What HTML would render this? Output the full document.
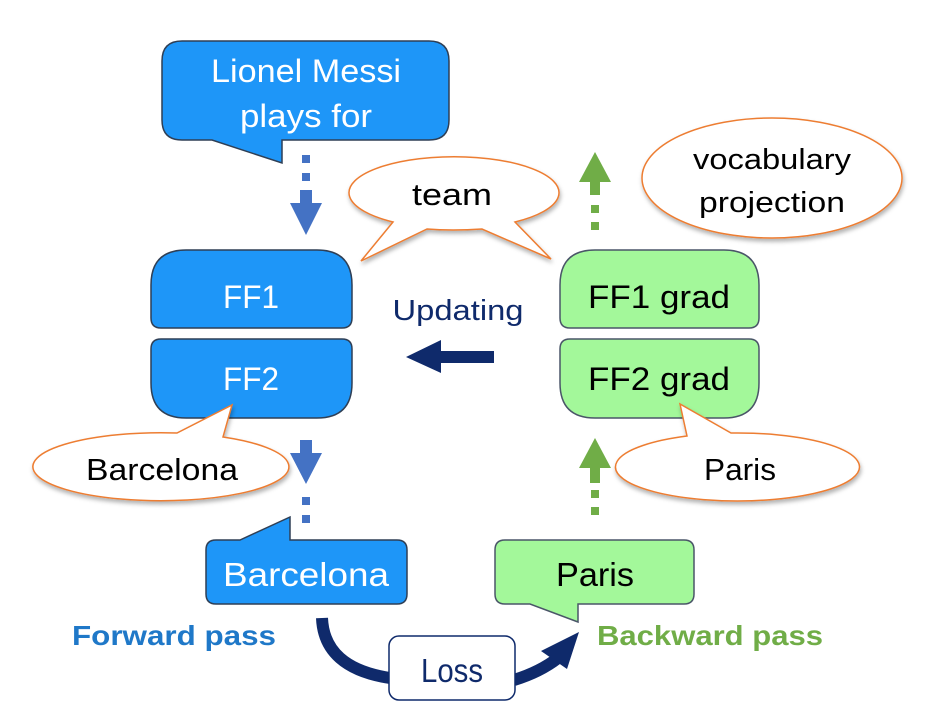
<!DOCTYPE html>
<html><head><meta charset="utf-8"><style>
html,body{margin:0;padding:0;background:#fff;}
svg{display:block;}
text{font-family:"Liberation Sans",sans-serif;}
</style></head><body>
<svg width="940" height="728" viewBox="0 0 940 728" xmlns="http://www.w3.org/2000/svg">
<defs>
<filter id="sh" x="-10%" y="-10%" width="120%" height="130%"><feDropShadow dx="1" dy="3" stdDeviation="2" flood-color="#000" flood-opacity="0.3"/></filter>
</defs>
<path d="M182,41 H429 Q449,41 449,61 V120 Q449,140 429,140 H282 V163 L212,140 H182 Q162,140 162,120 V61 Q162,41 182,41 Z" fill="#1E96F8" stroke="#2f3f55" stroke-width="1.5"/>
<text x="306" y="82" font-size="32" fill="#fff" text-anchor="middle" textLength="190" lengthAdjust="spacingAndGlyphs">Lionel Messi</text>
<text x="306" y="127" font-size="32" fill="#fff" text-anchor="middle" textLength="132" lengthAdjust="spacingAndGlyphs">plays for</text>
<rect x="302" y="155" width="8" height="8" fill="#4472C4"/>
<rect x="302" y="173" width="8" height="8" fill="#4472C4"/>
<rect x="300" y="190" width="12" height="14" fill="#4472C4"/>
<polygon points="290,203 322,203 306,235" fill="#4472C4"/>
<path d="M393,222 L361,261 L427,229 Q452,231 482,229 L551,259 L515,222 A105,36 0 1 0 393,222 Z" fill="#fff" stroke="#ED7D31" stroke-width="1.5" filter="url(#sh)"/>
<text x="452" y="205" font-size="31" fill="#000" text-anchor="middle" textLength="80" lengthAdjust="spacingAndGlyphs">team</text>
<path d="M186,250 H317 Q352,250 352,285 V318 Q352,328 342,328 H161 Q151,328 151,318 V285 Q151,250 186,250 Z" fill="#1E96F8" stroke="#2f3f55" stroke-width="1.5"/>
<text x="251" y="308" font-size="32" fill="#fff" text-anchor="middle" textLength="56" lengthAdjust="spacingAndGlyphs">FF1</text>
<path d="M161,339 H342 Q352,339 352,349 V383 Q352,418 317,418 H186 Q151,418 151,383 V349 Q151,339 161,339 Z" fill="#1E96F8" stroke="#2f3f55" stroke-width="1.5"/>
<text x="251" y="390" font-size="32" fill="#fff" text-anchor="middle" textLength="56" lengthAdjust="spacingAndGlyphs">FF2</text>
<text x="458" y="320" font-size="29" fill="#0f2a6b" text-anchor="middle" textLength="131" lengthAdjust="spacingAndGlyphs">Updating</text>
<polygon points="406,357 441,340 441,351 494,351 494,363 441,363 441,373" fill="#0f2a6b"/>
<path d="M595,250 H724 Q759,250 759,285 V318 Q759,328 749,328 H570 Q560,328 560,318 V285 Q560,250 595,250 Z" fill="#A3F89A" stroke="#4a5568" stroke-width="1.5"/>
<text x="659" y="308" font-size="32" fill="#000" text-anchor="middle" textLength="142" lengthAdjust="spacingAndGlyphs">FF1 grad</text>
<path d="M570,339 H749 Q759,339 759,349 V383 Q759,418 724,418 H595 Q560,418 560,383 V349 Q560,339 570,339 Z" fill="#A3F89A" stroke="#4a5568" stroke-width="1.5"/>
<text x="659" y="390" font-size="32" fill="#000" text-anchor="middle" textLength="142" lengthAdjust="spacingAndGlyphs">FF2 grad</text>
<ellipse cx="772" cy="178" rx="130" ry="60" fill="#fff" stroke="#ED7D31" stroke-width="1.5" filter="url(#sh)"/>
<text x="772" y="169" font-size="29" fill="#000" text-anchor="middle" textLength="158" lengthAdjust="spacingAndGlyphs">vocabulary</text>
<text x="772" y="212" font-size="29" fill="#000" text-anchor="middle" textLength="146" lengthAdjust="spacingAndGlyphs">projection</text>
<polygon points="595,152 611,182 579,182" fill="#70AD47"/>
<rect x="590" y="181" width="10" height="14" fill="#70AD47"/>
<rect x="591" y="205" width="8" height="8" fill="#70AD47"/>
<rect x="591" y="222" width="8" height="8" fill="#70AD47"/>
<path d="M687,436 L680,404 L731,433 A122,34 0 1 1 687,436 Z" fill="#fff" stroke="#ED7D31" stroke-width="1.5" filter="url(#sh)"/>
<text x="740" y="480" font-size="31" fill="#000" text-anchor="middle" textLength="72" lengthAdjust="spacingAndGlyphs">Paris</text>
<polygon points="595,438 611,468 579,468" fill="#70AD47"/>
<rect x="590" y="467" width="10" height="16" fill="#70AD47"/>
<rect x="591" y="490" width="8" height="8" fill="#70AD47"/>
<rect x="591" y="507" width="8" height="8" fill="#70AD47"/>
<path d="M223,437 L232,405 L177,433 A128,34 0 1 0 223,437 Z" fill="#fff" stroke="#ED7D31" stroke-width="1.5" filter="url(#sh)"/>
<text x="162" y="480" font-size="31" fill="#000" text-anchor="middle" textLength="152" lengthAdjust="spacingAndGlyphs">Barcelona</text>
<rect x="300" y="440" width="12" height="14" fill="#4472C4"/>
<polygon points="290,453 322,453 306,484" fill="#4472C4"/>
<rect x="302" y="497" width="8" height="8" fill="#4472C4"/>
<rect x="302" y="515" width="8" height="8" fill="#4472C4"/>
<path d="M216,540 H240 L290,517 V540 H397 Q407,540 407,550 V594 Q407,604 397,604 H216 Q206,604 206,594 V550 Q206,540 216,540 Z" fill="#1E96F8" stroke="#2f3f55" stroke-width="1.5"/>
<text x="306" y="586" font-size="33" fill="#fff" text-anchor="middle" textLength="166" lengthAdjust="spacingAndGlyphs">Barcelona</text>
<path d="M505,540 H684 Q694,540 694,550 V594 Q694,604 684,604 H578 V622 L530,604 H505 Q495,604 495,594 V550 Q495,540 505,540 Z" fill="#A3F89A" stroke="#4a5568" stroke-width="1.5"/>
<text x="595" y="586" font-size="33" fill="#000" text-anchor="middle" textLength="78" lengthAdjust="spacingAndGlyphs">Paris</text>
<text x="174" y="645" font-size="28" font-weight="bold" fill="#1f78c8" text-anchor="middle" textLength="204" lengthAdjust="spacingAndGlyphs">Forward pass</text>
<text x="710" y="645" font-size="28" font-weight="bold" fill="#70AD47" text-anchor="middle" textLength="226" lengthAdjust="spacingAndGlyphs">Backward pass</text>
<path d="M322,618 Q324,668 390,678" fill="none" stroke="#0f2a6b" stroke-width="12"/>
<path d="M514,680 Q540,672 558,658" fill="none" stroke="#0f2a6b" stroke-width="12"/>
<polygon points="579,632 567,669 541,651" fill="#0f2a6b"/>
<rect x="389" y="636" width="126" height="64" rx="10" fill="#fff" stroke="#0f2a6b" stroke-width="1.5"/>
<text x="452" y="682" font-size="33" fill="#0f2a6b" text-anchor="middle" textLength="62" lengthAdjust="spacingAndGlyphs">Loss</text>
</svg>
</body></html>
